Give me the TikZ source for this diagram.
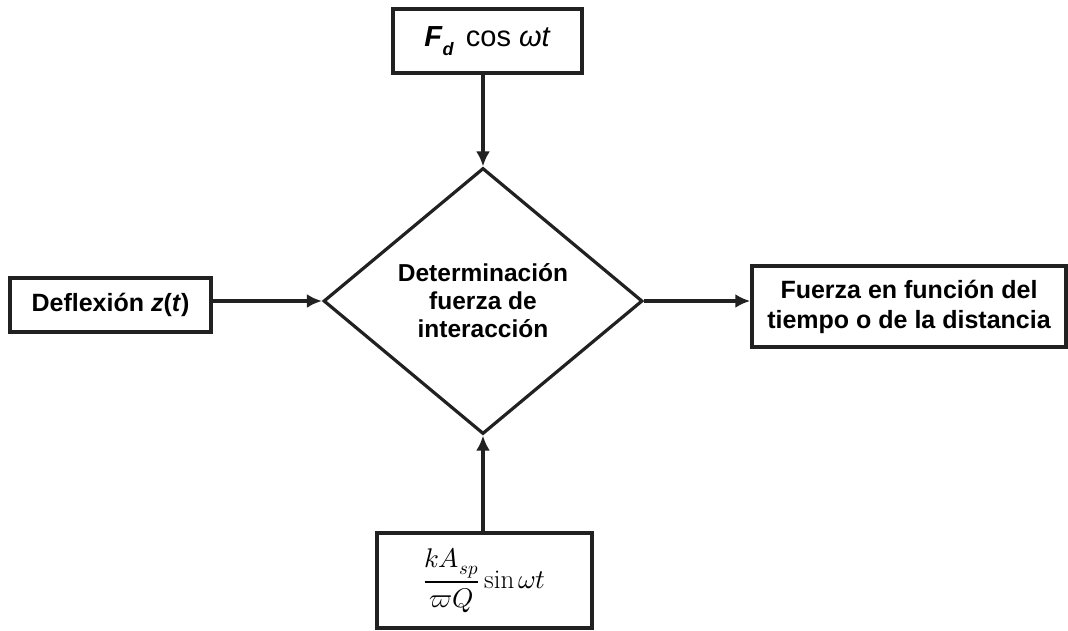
\documentclass[tikz,border=0pt]{standalone}
\usepackage{unicode-math}
\setmainfont{Liberation Sans}
\setmathfont{Latin Modern Math}
\setmathrm{Latin Modern Roman}
\usetikzlibrary{shapes.geometric,arrows.meta}
\begin{document}
\begin{tikzpicture}[x=1pt,y=-1pt,
  box/.style={draw=black!87, line width=3.5pt, rectangle, inner sep=0pt, align=center},
  btxt/.style={font=\fontsize{25}{30}\selectfont\bfseries},
  arr/.style={draw=black!87, line width=3.2pt, -{Latex[length=15pt,width=14pt]}}]
\useasboundingbox (0,0) rectangle (1068,630);
\node[box, minimum width=189pt, minimum height=64pt] (top) at (487.5,41)
  {\fontsize{29}{32}\selectfont\textbf{\textit{F}}\raisebox{-9pt}{\fontsize{18}{18}\selectfont\textbf{\textit{d}}}\hspace{12pt}cos \textit{ωt}};
\node[box, btxt, minimum width=201pt, minimum height=54pt] (left) at (110.5,305)
  {Deflexión \textit{z}(\textit{t})};
\node[box, btxt, minimum width=314pt, minimum height=81pt] (right) at (909,306.5)
  {Fuerza en función del\\tiempo o de la distancia};
\node[box, minimum width=215pt, minimum height=95pt] (bot) at (484.5,580.5)
  {\fontsize{27}{32}\selectfont$\displaystyle\frac{kA_{sp}}{\varpi Q}\,\mathrm{sin}\,\omega t$};
\node[draw=black!87, line width=3.2pt, diamond, inner sep=0pt, minimum width=319pt, minimum height=266pt,
  align=center, font=\fontsize{24.5}{28}\selectfont\bfseries] (dia) at (483,301)
  {Determinación\\fuerza de\\interacción};
\draw[arr] (top.south -| dia.north) -- (dia.north);
\draw[arr] (bot.north -| dia.south) -- (dia.south);
\draw[arr] (left.east |- dia.west) -- (dia.west);
\draw[arr] (dia.east) -- (dia.east -| right.west);
\end{tikzpicture}
\end{document}
